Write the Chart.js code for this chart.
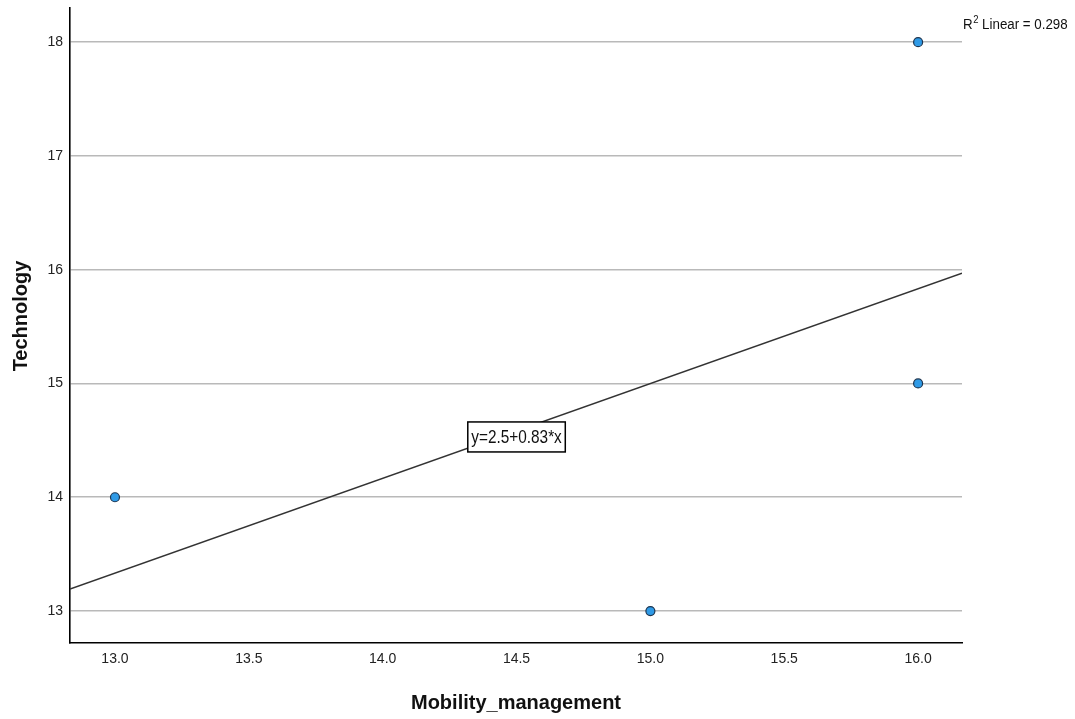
<!DOCTYPE html>
<html>
<head>
<meta charset="utf-8">
<script src="https://cdn.jsdelivr.net/npm/chart.js@4.4.1/dist/chart.umd.min.js"></script>
<style>
  html, body { margin: 0; padding: 0; background: #ffffff; }
  #wrap { position: relative; width: 1075px; height: 719px; }
</style>
</head>
<body>
<div id="wrap"><canvas id="chart" width="1075" height="719"></canvas></div>
<script>
// Observed cases
const mobilityManagement = [13, 15, 16, 16];
const technology = [14, 13, 18, 15];

// Axis ticks
const xTickValues = [13.0, 13.5, 14.0, 14.5, 15.0, 15.5, 16.0];
const yTickValues = [13, 14, 15, 16, 17, 18];

// Axis ranges
const xRange = [12.832, 16.164];
const yRange = [12.719, 18.30];

// Axis titles
const xTitle = 'Mobility_management';
const yTitle = 'Technology';

// Linear fit
const fitIntercept = 2.5;
const fitSlope = 0.8333;
const fitLabel = 'y=2.5+0.83*x';
const fitLabelAt = [14.5, 14.53];
const rSquared = '0.298';

const sans = '"Liberation Sans", Arial, sans-serif';

const points = mobilityManagement.map((x, i) => ({ x, y: technology[i] }));
const fitLine = xRange.map(x => ({ x, y: fitIntercept + fitSlope * x }));

// Draws condensed text (narrow face emulated by horizontal scaling)
function narrowText(ctx, text, x, y, font, squeeze) {
  ctx.save();
  ctx.font = font;
  ctx.translate(x, y);
  ctx.scale(squeeze, 1);
  ctx.fillText(text, 0, 0);
  const w = ctx.measureText(text).width * squeeze;
  ctx.restore();
  return w;
}

const annotations = {
  id: 'annotations',
  afterDatasetsDraw(chart) {
    const { ctx, chartArea, scales: { x, y } } = chart;
    ctx.save();

    // equation box
    const sq = 0.83;
    ctx.font = '18.5px ' + sans;
    const tw = ctx.measureText(fitLabel).width * sq;
    const cx = x.getPixelForValue(fitLabelAt[0]);
    const cy = y.getPixelForValue(fitLabelAt[1]);
    const bw = tw + 7, bh = 30;
    ctx.fillStyle = '#ffffff';
    ctx.fillRect(cx - bw / 2, cy - bh / 2, bw, bh);
    ctx.strokeStyle = '#000000';
    ctx.lineWidth = 1.5;
    ctx.strokeRect(cx - bw / 2, cy - bh / 2, bw, bh);
    ctx.fillStyle = '#111111';
    ctx.textAlign = 'left';
    ctx.textBaseline = 'middle';
    narrowText(ctx, fitLabel, cx - tw / 2, cy + 1, '18.5px ' + sans, sq);

    // R squared note
    ctx.textBaseline = 'alphabetic';
    let px = chartArea.right + 1;
    const base = 29;
    px += narrowText(ctx, 'R', px, base, '15.5px ' + sans, 0.86);
    px += narrowText(ctx, '2', px + 0.5, base - 6, '11px ' + sans, 0.86) + 0.5;
    narrowText(ctx, ' Linear = ' + rSquared, px, base, '15.5px ' + sans, 0.86);

    // axis titles
    ctx.fillStyle = '#111111';
    ctx.textAlign = 'center';
    ctx.textBaseline = 'middle';
    ctx.font = 'bold 20px ' + sans;
    ctx.fillText(xTitle, (chartArea.left + chartArea.right) / 2, 703);
    ctx.save();
    ctx.translate(21, 316);
    ctx.rotate(-Math.PI / 2);
    ctx.fillText(yTitle, 0, 0);
    ctx.restore();

    ctx.restore();
  }
};

new Chart(document.getElementById('chart'), {
  type: 'scatter',
  data: {
    datasets: [
      {
        type: 'line',
        data: fitLine,
        borderColor: '#333333',
        borderWidth: 1.6,
        pointRadius: 0,
        fill: false,
        order: 2
      },
      {
        data: points,
        backgroundColor: '#2f9ae6',
        borderColor: '#1d3550',
        borderWidth: 1.2,
        pointRadius: 4.5,
        pointHoverRadius: 4.5,
        order: 1
      }
    ]
  },
  options: {
    responsive: false,
    animation: false,
    events: [],
    layout: { padding: { top: 8, right: 113, left: 0, bottom: 0 } },
    plugins: { legend: { display: false }, tooltip: { enabled: false } },
    scales: {
      x: {
        type: 'linear',
        min: xRange[0],
        max: xRange[1],
        afterBuildTicks: s => { s.ticks = xTickValues.map(v => ({ value: v })); },
        afterFit: s => { s.height = 76; s.paddingLeft = 0; s.paddingRight = 0; },
        grid: { display: false, drawTicks: false },
        border: { display: true, color: '#000000', width: 1.6 },
        ticks: {
          padding: 8,
          color: '#222222',
          font: { family: sans, size: 14 },
          callback: v => Number(v).toFixed(1),
          maxRotation: 0,
          autoSkip: false
        },
        title: { display: false }
      },
      y: {
        type: 'linear',
        min: yRange[0],
        max: yRange[1],
        afterBuildTicks: s => { s.ticks = yTickValues.map(v => ({ value: v })); },
        afterFit: s => { s.width = 70; s.paddingTop = 0; s.paddingBottom = 0; },
        grid: { display: true, drawTicks: false, color: '#b9b9b9', lineWidth: 1.5 },
        border: { display: true, color: '#000000', width: 1.6 },
        ticks: {
          padding: 7,
          color: '#222222',
          font: { family: sans, size: 14 },
          callback: v => String(v)
        },
        title: { display: false }
      }
    }
  },
  plugins: [annotations]
});
</script>
</body>
</html>
